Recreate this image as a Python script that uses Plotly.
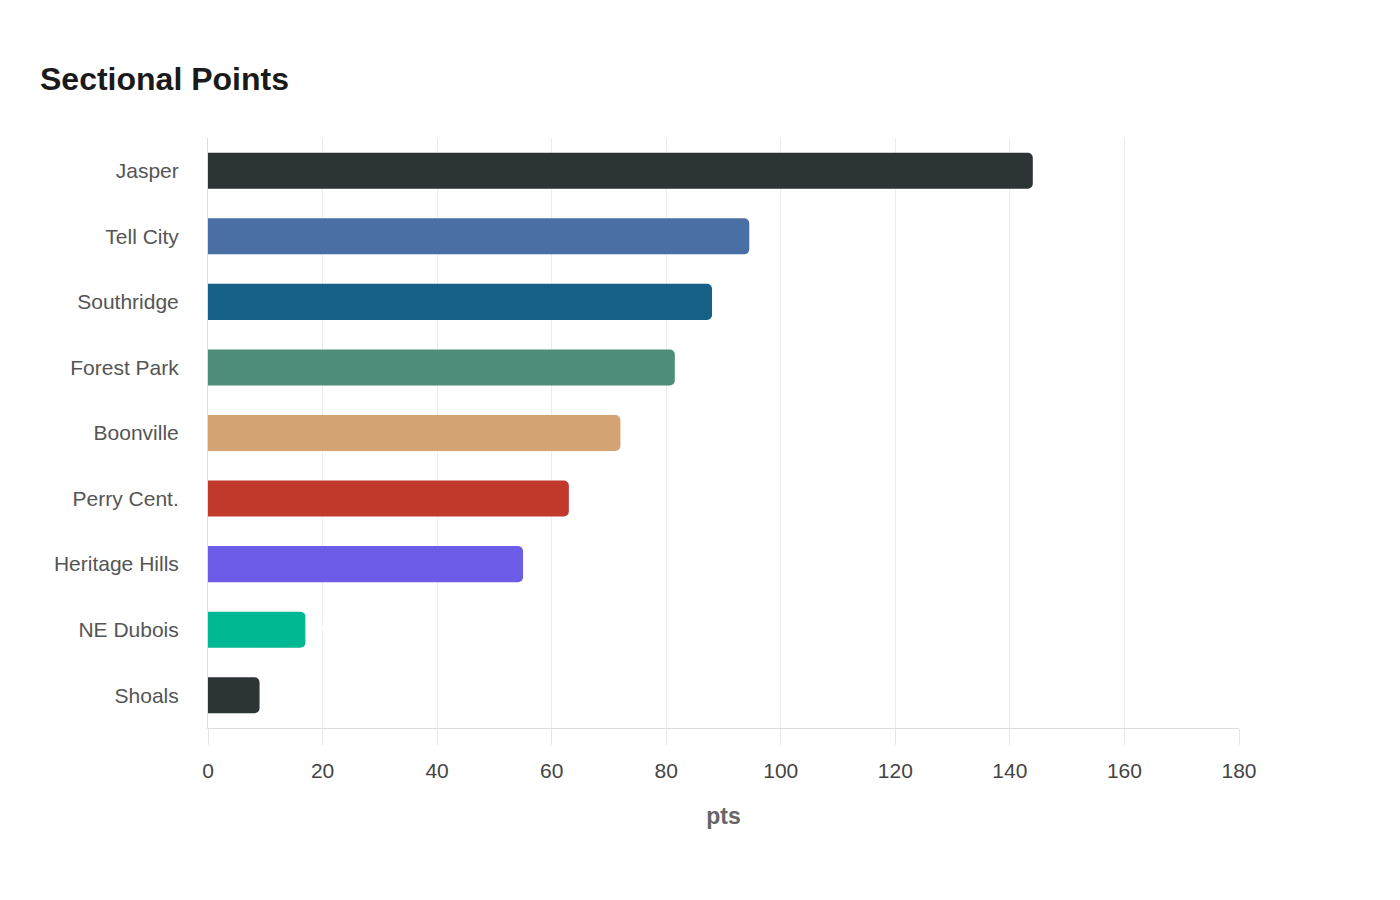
import plotly.graph_objects as go

teams = ["Jasper", "Tell City", "Southridge", "Forest Park", "Boonville",
         "Perry Cent.", "Heritage Hills", "NE Dubois", "Shoals"]
points = [144, 94.5, 88, 81.5, 72, 63, 55, 17, 9]
colors = ["#2d3436", "#4a6fa5", "#166088", "#4e8d7a", "#d4a373",
          "#c0392b", "#6c5ce7", "#00b894", "#2d3436"]
x_ticks = [0, 20, 40, 60, 80, 100, 120, 140, 160, 180]

fig = go.Figure(go.Bar(
    y=teams, x=points, orientation="h",
    marker=dict(color=colors, line=dict(width=0)),
    text=[str(p) for p in points], textposition="outside",
    textfont=dict(color="#ffffff", size=16, family="Liberation Sans"),
    cliponaxis=False,
))

fig.update_layout(
    width=1400, height=900,
    paper_bgcolor="white", plot_bgcolor="white",
    margin=dict(l=208, r=161, t=138, b=172),
    barcornerradius=5,
    bargap=0.45,
    showlegend=False,
    font=dict(family="Liberation Sans, Arial, sans-serif"),
    title=dict(text="<b>Sectional Points</b>", x=40/1400, xanchor="left",
               y=1-79/900, yanchor="middle",
               font=dict(size=32, color="#1a1a1a")),
    xaxis=dict(range=[0, 180], tickvals=x_ticks, showgrid=True,
               gridcolor="#ececec", gridwidth=1, zeroline=False,
               showline=True, linecolor="#dddddd", linewidth=1,
               ticks="outside", ticklen=16, tickcolor="#e6e6e6",
               ticklabelstandoff=8,
               tickfont=dict(size=21, color="#444444"),
               title=dict(text="<b>pts</b>", font=dict(size=23, color="#666666"),
                          standoff=26)),
    yaxis=dict(categoryorder="array", categoryarray=teams[::-1],
               showline=True, linecolor="#dddddd", linewidth=1,
               showgrid=False, ticks="", ticklabelstandoff=24,
               tickfont=dict(size=21, color="#555555")),
)

fig.write_html("out.html")
